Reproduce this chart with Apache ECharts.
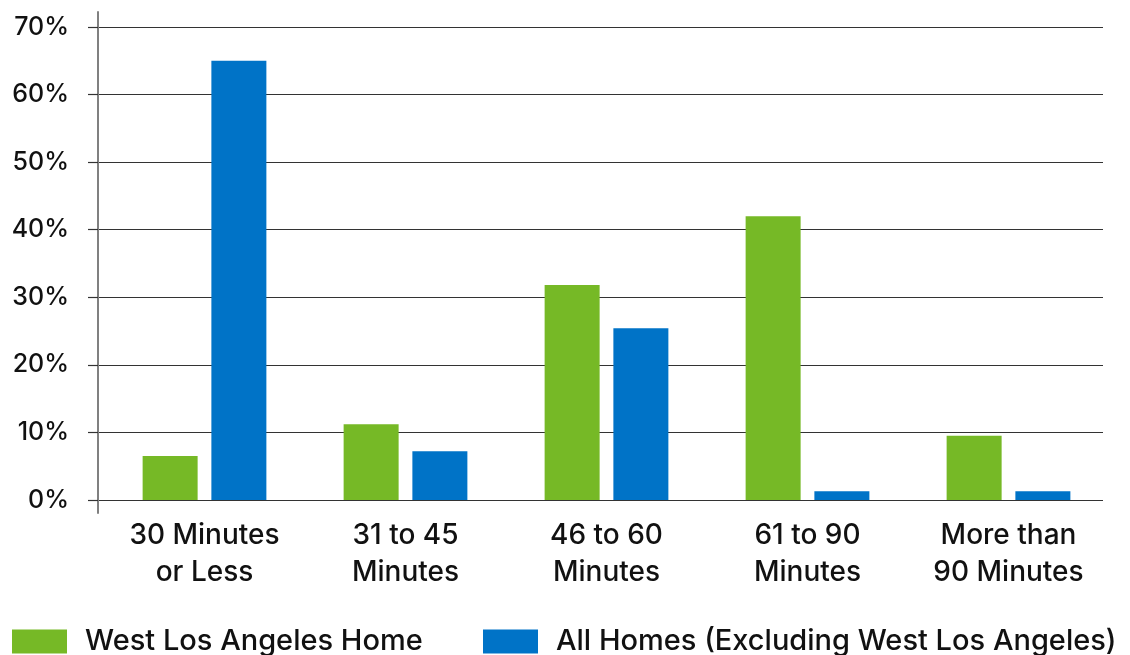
<!DOCTYPE html>
<html>
<head>
<meta charset="utf-8">
<script src="https://cdn.jsdelivr.net/npm/echarts@6/dist/echarts.min.js"></script>
<style>html,body{margin:0;padding:0;background:#fff}#c{width:1130px;height:655px}</style>
</head>
<body>
<div id="c"></div>
<script>
var categories = ['30 Minutes\nor Less', '31 to 45\nMinutes', '46 to 60\nMinutes', '61 to 90\nMinutes', 'More than\n90 Minutes'];
var westLA = [6.5, 11.2, 31.8, 42.0, 9.5];
var allHomes = [65.0, 7.2, 25.4, 1.3, 1.3];
var seriesNames = ['West Los Angeles Home', 'All Homes (Excluding West Los Angeles)'];
var yTicks = [0, 10, 20, 30, 40, 50, 60, 70];

var FONT = 'Inter';
var TXT = '#111';
var legendText = {fontFamily: FONT, fontSize: 29, fontWeight: 500, color: TXT, padding: [0, 0, 0, 13]};
var chart = echarts.init(document.getElementById('c'), null, {renderer: 'canvas'});
chart.setOption({
  animation: false,
  textStyle: {fontFamily: FONT},
  grid: [
    {left: 98, right: 27, top: 27, bottom: 155},
    {left: 104, width: 1005, top: 27, bottom: 155},
    {left: 98, width: 1, top: 12, height: 501}
  ],
  legend: [
    {left: 12, top: 627, padding: 0, itemWidth: 55, itemHeight: 24, icon: 'rect',
     textStyle: legendText, data: [seriesNames[0]]},
    {left: 483, top: 627, padding: 0, itemWidth: 55, itemHeight: 24, icon: 'rect',
     textStyle: legendText, data: [seriesNames[1]]}
  ],
  xAxis: [
    {gridIndex: 0, type: 'value', show: false, min: 0, max: 1},
    {gridIndex: 1, type: 'category', data: categories,
     axisLine: {show: false}, axisTick: {show: false},
     axisLabel: {fontFamily: FONT, fontSize: 28, fontWeight: 500, color: TXT, lineHeight: 37, margin: 17}},
    {gridIndex: 2, type: 'value', show: false, min: 0, max: 1}
  ],
  yAxis: [
    {gridIndex: 0, type: 'value', min: yTicks[0], max: yTicks[yTicks.length - 1], interval: 10,
     axisLine: {show: false},
     axisTick: {show: true, length: 10, lineStyle: {color: '#333', width: 1.2}},
     splitLine: {show: true, lineStyle: {color: '#333', width: 1.2}},
     axisLabel: {fontFamily: FONT, fontSize: 25, fontWeight: 500, color: TXT, margin: 29, formatter: '{value}%'}},
    {gridIndex: 1, type: 'value', min: 0, max: 70, show: false},
    {gridIndex: 2, type: 'value', min: 0, max: 1, position: 'left',
     axisLine: {show: true, lineStyle: {color: '#808080', width: 2}},
     axisTick: {show: false}, axisLabel: {show: false}, splitLine: {show: false}}
  ],
  series: [
    {name: seriesNames[0], type: 'bar', xAxisIndex: 1, yAxisIndex: 1, data: westLA,
     barWidth: 55, barGap: '25%', itemStyle: {color: '#76B926'}, z: 3},
    {name: seriesNames[1], type: 'bar', xAxisIndex: 1, yAxisIndex: 1, data: allHomes,
     barWidth: 55, barGap: '25%', itemStyle: {color: '#0073C7'}, z: 3}
  ]
});
</script>
</body>
</html>
